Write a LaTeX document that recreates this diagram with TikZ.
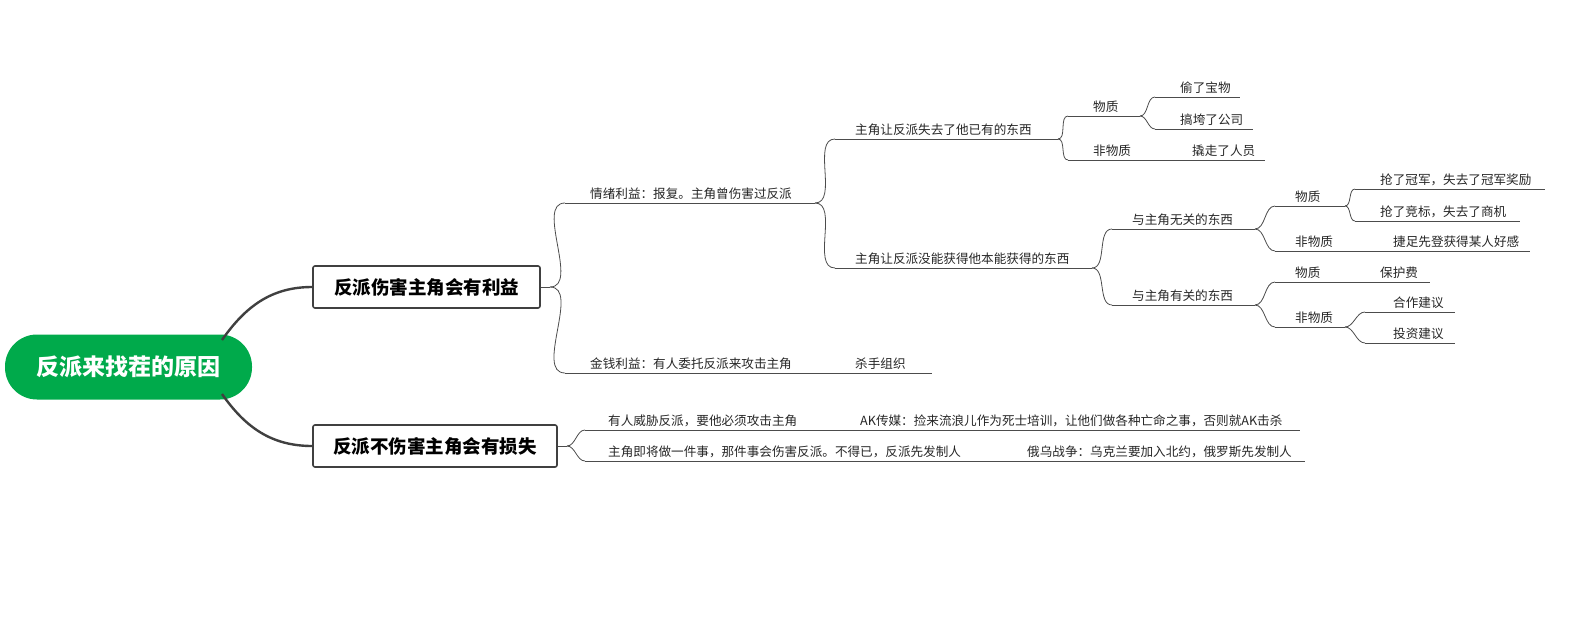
\documentclass[tikz,border=0pt]{standalone}
\usepackage{fontspec}
\setmainfont{Noto Sans CJK SC}
\newcommand{\mmleaf}[6]{%
  \coordinate (#1-s) at (#2,#4);
  \coordinate (#1-e) at (#3,#4);
  \draw[lnk] (#1-s) -- (#1-e);
  \node[lbl] (#1) at (#5,#4) {#6};}
\begin{document}
\begin{tikzpicture}[x=1pt,y=-1pt,
  lbl/.style={anchor=south west,inner sep=0pt,yshift=3pt,font=\fontsize{12.6}{14}\selectfont,text=black!85},
  lnk/.style={draw=black!70,line width=0.8pt},
  cv/.style={lnk,out=0,in=180,looseness=0.9},
  thick/.style={draw=black!75,line width=2.4pt},
  box/.style={draw=black!75,line width=1.6pt,rounded corners=2pt,fill=white,font=\fontsize{18.5}{20}\bfseries\selectfont,minimum height=42pt,inner xsep=18pt}]
\useasboundingbox (0,0) rectangle (1593,618);
\node[fill={rgb,255:red,0;green,170;blue,75},rounded corners=32pt,minimum width=247pt,minimum height=65pt,text=white,font=\fontsize{23}{25}\bfseries\selectfont] (root) at (128.5,367) {反派来找茬的原因};
\node[box,minimum width=227pt] (A) at (426.5,287) {反派伤害主角会有利益};
\node[box,minimum width=244pt] (B) at (435,446) {反派不伤害主角会有损失};
\coordinate (r1) at (222,340);
\coordinate (r2) at (222,394);
\draw[thick] (r1) to[out=55,in=180] (A.west);
\draw[thick] (r2) to[out=-55,in=180] (B.west);
\coordinate (Aj) at (550,287);
\coordinate (Bj) at (567,446);
\draw[lnk] (A.east) -- (Aj);
\draw[lnk] (B.east) -- (Bj);
% A children
\mmleaf{a1}{565}{815}{203}{590}{情绪利益：报复。主角曾伤害过反派}
\mmleaf{a2}{565}{932}{373}{590}{金钱利益：有人委托反派来攻击主角}
\node[lbl] (a2k) at (855,373) {杀手组织};
\draw[cv] (Aj) to (a1-s); \draw[cv] (Aj) to (a2-s);
\mmleaf{a11}{835}{1058}{139}{855}{主角让反派失去了他已有的东西}
\mmleaf{a12}{835}{1092}{268}{855}{主角让反派没能获得他本能获得的东西}
\draw[cv] (a1-e) to (a11-s); \draw[cv] (a1-e) to (a12-s);
\mmleaf{m1}{1068}{1140}{116}{1093}{物质}
\mmleaf{m2}{1068}{1265}{160}{1093}{非物质}
\node[lbl] (m2k) at (1192,160) {撬走了人员};
\draw[cv] (a11-e) to (m1-s); \draw[cv] (a11-e) to (m2-s);
\mmleaf{m11}{1155}{1240}{97}{1180}{偷了宝物}
\mmleaf{m12}{1155}{1253}{129}{1180}{搞垮了公司}
\draw[cv] (m1-e) to (m11-s); \draw[cv] (m1-e) to (m12-s);
\mmleaf{n1}{1112}{1255}{229}{1132}{与主角无关的东西}
\mmleaf{n2}{1112}{1255}{305}{1132}{与主角有关的东西}
\draw[cv] (a12-e) to (n1-s); \draw[cv] (a12-e) to (n2-s);
\mmleaf{n11}{1275}{1345}{206}{1295}{物质}
\mmleaf{n12}{1275}{1530}{251}{1295}{非物质}
\node[lbl] (n12k) at (1393,251) {捷足先登获得某人好感};
\draw[cv] (n1-e) to (n11-s); \draw[cv] (n1-e) to (n12-s);
\mmleaf{n111}{1355}{1545}{189}{1380}{抢了冠军，失去了冠军奖励}
\mmleaf{n112}{1355}{1520}{221}{1380}{抢了竞标，失去了商机}
\draw[cv] (n11-e) to (n111-s); \draw[cv] (n11-e) to (n112-s);
\mmleaf{n21}{1275}{1430}{282}{1295}{物质}
\node[lbl] (n21k) at (1380,282) {保护费};
\mmleaf{n22}{1275}{1345}{327}{1295}{非物质}
\draw[cv] (n2-e) to (n21-s); \draw[cv] (n2-e) to (n22-s);
\mmleaf{n221}{1365}{1455}{312}{1393}{合作建议}
\mmleaf{n222}{1365}{1455}{343}{1393}{投资建议}
\draw[cv] (n22-e) to (n221-s); \draw[cv] (n22-e) to (n222-s);
% B children
\mmleaf{b1}{585}{1300}{430}{608}{有人威胁反派，要他必须攻击主角}
\node[lbl] (b1k) at (860,430) {AK传媒：捡来流浪儿作为死士培训，让他们做各种亡命之事，否则就AK击杀};
\mmleaf{b2}{585}{1305}{461}{608}{主角即将做一件事，那件事会伤害反派。不得已，反派先发制人}
\node[lbl] (b2k) at (1027,461) {俄乌战争：乌克兰要加入北约，俄罗斯先发制人};
\draw[cv] (Bj) to (b1-s); \draw[cv] (Bj) to (b2-s);
\end{tikzpicture}
\end{document}
